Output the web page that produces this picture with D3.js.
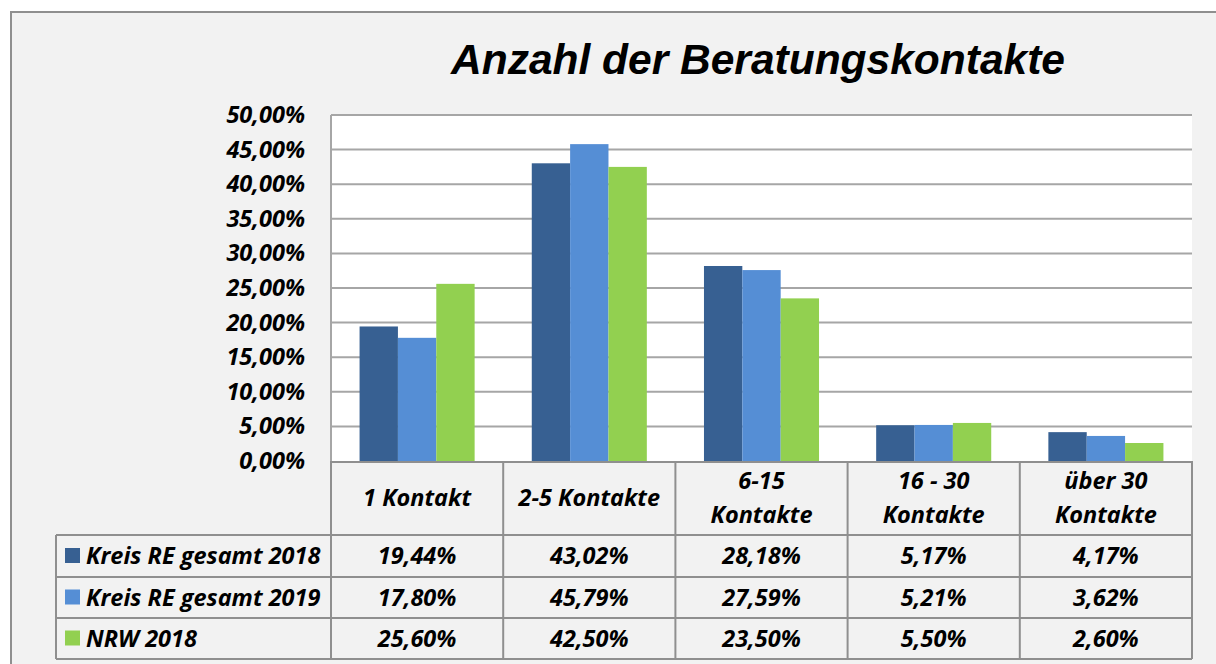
<!DOCTYPE html>
<html>
<head>
<meta charset="utf-8">
<script src="https://cdn.jsdelivr.net/npm/d3@7.9.0/dist/d3.min.js"></script>
<style>
  html, body { margin: 0; padding: 0; background: #fff; }
  svg { display: block; }
  .lbl { font-family: "Open Sans", sans-serif; font-weight: bold; font-style: italic; fill: #000; }
</style>
</head>
<body>
<svg id="chart" width="1216" height="664"></svg>
<script>
// ---------- DATA ----------
const categories = ["1 Kontakt", "2-5 Kontakte", "6-15 Kontakte", "16 - 30 Kontakte", "über 30 Kontakte"];
const categoryLines = [["1 Kontakt"], ["2-5 Kontakte"], ["6-15", "Kontakte"], ["16 - 30", "Kontakte"], ["über 30", "Kontakte"]];
const seriesNames = ["Kreis RE gesamt 2018", "Kreis RE gesamt 2019", "NRW 2018"];
const kreis2018 = [19.44, 43.02, 28.18, 5.17, 4.17];
const kreis2019 = [17.80, 45.79, 27.59, 5.21, 3.62];
const nrw2018 = [25.60, 42.50, 23.50, 5.50, 2.60];
const yTicks = [0, 5, 10, 15, 20, 25, 30, 35, 40, 45, 50];

const seriesValues = [kreis2018, kreis2019, nrw2018];
const colors = ["#376092", "#558ed5", "#92d050"];

const de = d3.formatLocale({ decimal: ",", thousands: ".", grouping: [3], currency: ["", " €"] });
const pct = v => de.format(".2f")(v) + "%";

const svg = d3.select("#chart");
const gridColor = "#a6a6a6";
const tableColor = "#8f8f8f";
const fs = 23.5;

// ---------- LAYOUT ----------
const plot = { left: 331, right: 1192, top: 115, bottom: 461 };
const rowTops = [535, 577, 618, 659];
const legendLeft = 56;

// chart background + border
svg.append("rect")
  .attr("x", 11).attr("y", 12)
  .attr("width", 1230).attr("height", 680)
  .attr("fill", "#f2f2f2")
  .attr("stroke", tableColor)
  .attr("stroke-width", 2);

// title
svg.append("text")
  .attr("x", 758).attr("y", 74)
  .attr("text-anchor", "middle")
  .attr("font-family", "'Liberation Sans', Arial, sans-serif")
  .attr("font-weight", "bold")
  .attr("font-style", "italic")
  .attr("font-size", 42.5)
  .text("Anzahl der Beratungskontakte");

// ---------- SCALES ----------
const x0 = d3.scaleBand().domain(categories).range([plot.left, plot.right]).padding(0);
const x1 = d3.scaleBand().domain(seriesNames).range([0, x0.bandwidth()])
  .paddingInner(0).paddingOuter(0.745);
const y = d3.scaleLinear().domain([0, 50]).range([plot.bottom, plot.top]);

// plot area
svg.append("rect")
  .attr("x", plot.left).attr("y", plot.top)
  .attr("width", plot.right - plot.left).attr("height", plot.bottom - plot.top)
  .attr("fill", "#fff");

// gridlines
svg.append("g")
  .selectAll("line")
  .data(yTicks.filter(d => d > 0))
  .join("line")
  .attr("x1", plot.left).attr("x2", plot.right)
  .attr("y1", d => y(d)).attr("y2", d => y(d))
  .attr("stroke", gridColor)
  .attr("stroke-width", 2);

// y axis line
svg.append("line")
  .attr("x1", plot.left).attr("x2", plot.left)
  .attr("y1", plot.top).attr("y2", plot.bottom)
  .attr("stroke", gridColor)
  .attr("stroke-width", 2);

// y tick labels
svg.append("g")
  .selectAll("text")
  .data(yTicks)
  .join("text")
  .attr("class", "lbl")
  .attr("x", 305)
  .attr("y", d => y(d) + 8)
  .attr("text-anchor", "end")
  .attr("font-size", fs)
  .text(d => pct(d));

// bars
const groups = svg.append("g")
  .selectAll("g")
  .data(categories)
  .join("g")
  .attr("transform", d => `translate(${x0(d)},0)`);

groups.selectAll("rect")
  .data((c, i) => seriesNames.map((s, j) => ({ s, v: seriesValues[j][i], j })))
  .join("rect")
  .attr("x", d => x1(d.s))
  .attr("width", x1.bandwidth())
  .attr("y", d => y(d.v))
  .attr("height", d => y(0) - y(d.v))
  .attr("fill", d => colors[d.j]);

// ---------- DATA TABLE ----------
const tbl = svg.append("g")
  .attr("stroke", tableColor)
  .attr("stroke-width", 2)
  .attr("fill", "none");

// header + rows horizontal lines
tbl.append("line").attr("x1", plot.left).attr("x2", plot.right).attr("y1", plot.bottom + 1).attr("y2", plot.bottom + 1);
rowTops.forEach(ry => {
  tbl.append("line").attr("x1", legendLeft).attr("x2", plot.right).attr("y1", ry).attr("y2", ry);
});
// vertical lines
const colEdges = categories.map(c => x0(c)).concat([plot.right]);
colEdges.forEach(cx => {
  tbl.append("line").attr("x1", cx).attr("x2", cx).attr("y1", plot.bottom).attr("y2", rowTops[3]);
});
tbl.append("line").attr("x1", legendLeft).attr("x2", legendLeft).attr("y1", rowTops[0]).attr("y2", rowTops[3]);

// category header labels
const headerMid = (plot.bottom + rowTops[0]) / 2;
categories.forEach((c, i) => {
  const lines = categoryLines[i];
  const t = svg.append("text")
    .attr("class", "lbl")
    .attr("text-anchor", "middle")
    .attr("font-size", fs)
    .attr("x", x0(c) + x0.bandwidth() / 2);
  lines.forEach((ln, k) => {
    t.append("tspan")
      .attr("x", x0(c) + x0.bandwidth() / 2)
      .attr("y", headerMid + 8 + (k - (lines.length - 1) / 2) * 34)
      .text(ln);
  });
});

// legend column + values
seriesNames.forEach((s, j) => {
  const mid = (rowTops[j] + rowTops[j + 1]) / 2;
  svg.append("rect")
    .attr("x", 65).attr("y", mid - 8)
    .attr("width", 15).attr("height", 15)
    .attr("fill", colors[j]);
  svg.append("text")
    .attr("class", "lbl")
    .attr("x", 86).attr("y", mid + 8)
    .attr("font-size", fs)
    .text(s);
  categories.forEach((c, i) => {
    svg.append("text")
      .attr("class", "lbl")
      .attr("text-anchor", "middle")
      .attr("x", x0(c) + x0.bandwidth() / 2)
      .attr("y", mid + 8)
      .attr("font-size", fs)
      .text(pct(seriesValues[j][i]));
  });
});
</script>
</body>
</html>
